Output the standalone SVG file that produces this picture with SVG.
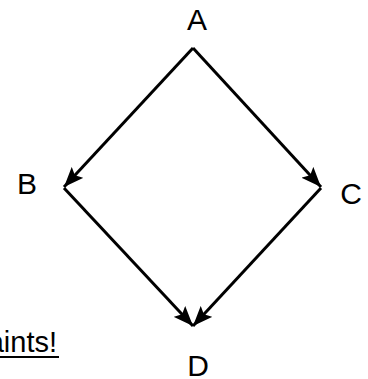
<svg xmlns="http://www.w3.org/2000/svg" width="368" height="379" viewBox="0 0 368 379">
<style>
.lbl{font-family:"Liberation Sans",Arial,sans-serif;font-size:30px;fill:#000;text-anchor:middle}
.edge{stroke:#000;stroke-width:3;fill:none}
.note{font-family:"Liberation Sans",Arial,sans-serif;font-size:29px;fill:#000;text-anchor:end}
</style>
<defs>
<marker id="ah" markerUnits="userSpaceOnUse" viewBox="0 0 20 16" refX="20" refY="8" markerWidth="20" markerHeight="16" orient="auto">
<path d="M0,0 L20,8 L0,16 L4,8 Z" fill="#000"/>
</marker>
</defs>
<rect width="368" height="379" fill="#fff"/>
<g id="connectors">
<line class="edge" x1="193" y1="48" x2="64" y2="187" marker-end="url(#ah)"/>
<line class="edge" x1="193" y1="48" x2="321" y2="187" marker-end="url(#ah)"/>
<line class="edge" x1="64" y1="188" x2="193" y2="326" marker-end="url(#ah)"/>
<line class="edge" x1="321" y1="188" x2="193" y2="326" marker-end="url(#ah)"/>
</g>
<g id="A"><text class="lbl" x="197" y="30">A</text></g>
<g id="B"><text class="lbl" x="27" y="194">B</text></g>
<g id="C"><text class="lbl" x="351" y="204">C</text></g>
<g id="D"><text class="lbl" x="198" y="376">D</text></g>
<g id="note">
<text class="note" x="57" y="352">Constraints!</text>
<line x1="0" y1="357" x2="59" y2="357" stroke="#000" stroke-width="2"/>
</g>
</svg>
